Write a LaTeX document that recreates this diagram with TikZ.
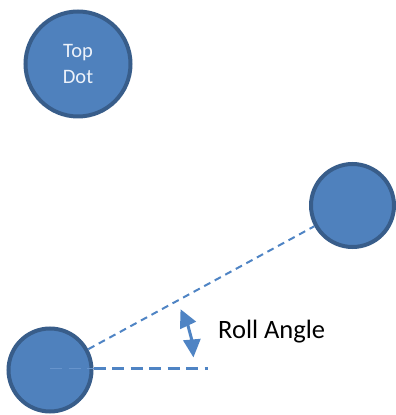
\documentclass[tikz,border=0pt]{standalone}
\usepackage{fontspec}
\setmainfont{Carlito}
\usetikzlibrary{arrows.meta}
\definecolor{dotfill}{HTML}{4F81BD}
\definecolor{dotedge}{HTML}{385D8A}
\definecolor{linec}{HTML}{4F84C4}
\definecolor{innerc}{HTML}{6794CC}
\definecolor{dottext}{rgb}{0.93,0.95,0.98}
\tikzset{
  dot/.style={circle, fill=dotfill, draw=dotedge, line width=4pt, inner sep=0pt},
  diagline/.style={draw=linec, line width=2pt, dash pattern=on 7pt off 5pt},
  horline/.style={draw=linec, line width=3pt, dash pattern=on 12pt off 6.5pt},
  anglearrow/.style={draw=linec, line width=3pt, {Triangle[length=18pt,width=17pt]}-{Triangle[length=18pt,width=17pt]}},
}
\begin{document}
\begin{tikzpicture}[x=1pt,y=1pt]
\useasboundingbox (0,0) rectangle (396,415);
\node[dot, minimum size=105pt, text=dottext, align=center,
      font=\fontsize{20.5pt}{25.6pt}\selectfont] (top) at (78,351) {Top\\Dot};
\node[dot, minimum size=83pt] (bot) at (50,45) {};
\node[dot, minimum size=83pt] (right) at (352.5,209.5) {};
\coordinate (he) at (208,46.5);
\draw[diagline] (bot) -- (right);
\draw[horline, draw=innerc, line width=1.5pt] (he -| bot.center) -- (he -| bot.east);
\draw[horline] (he -| bot.east) -- (he);
\draw[anglearrow] ([shift={(5:144)}]bot.center) arc[start angle=5, end angle=25, radius=144];
\node[anchor=base west, inner sep=0pt, font=\fontsize{26.5pt}{30pt}\selectfont] (label) at (218,76) {Roll Angle};
\end{tikzpicture}
\end{document}
